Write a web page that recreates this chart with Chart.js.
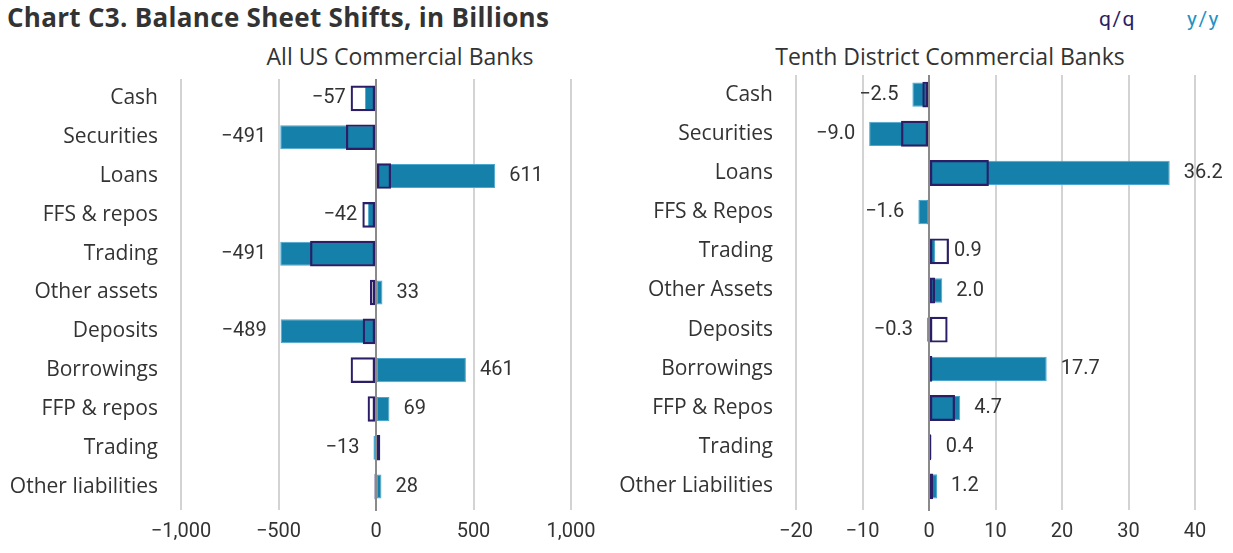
<!DOCTYPE html>
<html>
<head>
<meta charset="utf-8">
<script src="https://cdn.jsdelivr.net/npm/chart.js@4/dist/chart.umd.min.js"></script>
<style>
  body { margin: 0; background: #fff; }
  #wrap { position: relative; width: 1233px; height: 553px; font-family: "Open Sans", sans-serif; color: #333; }
  .title { position: absolute; left: 7px; top: 0px; font-size: 26px; font-weight: 700; line-height: 34px; letter-spacing: 0.3px; color: #333; }
  .legend { position: absolute; top: 5px; font-family: Roboto, sans-serif; font-size: 21px; line-height: 28px; letter-spacing: 1.5px; }
  .sub { position: absolute; top: 41px; width: 420px; text-align: center; font-size: 23px; line-height: 30px; color: #333; }
  .pane { position: absolute; top: 0; }
</style>
</head>
<body>
<div id="wrap">
  <div class="title">Chart C3. Balance Sheet Shifts, in Billions</div>
  <div class="legend" style="left:1099px;color:#2b1d66">q/q</div>
  <div class="legend" style="left:1187px;color:#1f93c4">y/y</div>
  <div class="sub" style="left:190px">All US Commercial Banks</div>
  <div class="sub" style="left:740px">Tenth District Commercial Banks</div>
  <div class="pane" style="left:0"><canvas id="usChart" width="620" height="553"></canvas></div>
  <div class="pane" style="left:620px"><canvas id="tenthChart" width="613" height="553"></canvas></div>
</div>
<script>
// --- dados ---
const usCategories = ['Cash', 'Securities', 'Loans', 'FFS & repos', 'Trading', 'Other assets',
  'Deposits', 'Borrowings', 'FFP & repos', 'Trading', 'Other liabilities'];
const usYoY = [-57, -491, 611, -42, -491, 33, -489, 461, 69, -13, 28];
const usQoQ = [-130, -154, 77, -70, -338, -31, -68, -130, -43, 22, -8];
const usTicks = [-1000, -500, 0, 500, 1000];

const tenthCategories = ['Cash', 'Securities', 'Loans', 'FFS & Repos', 'Trading', 'Other Assets',
  'Deposits', 'Borrowings', 'FFP & Repos', 'Trading', 'Other Liabilities'];
const tenthYoY = [-2.5, -9.0, 36.2, -1.6, 0.9, 2.0, -0.3, 17.7, 4.7, 0.4, 1.2];
const tenthQoQ = [-1.0, -4.2, 9.0, -0.2, 3.0, 0.9, 2.8, 0.5, 3.9, 0.3, 0.6];
const tenthTicks = [-20, -10, 0, 10, 20, 30, 40];

const LABEL_FONT = '"Open Sans", sans-serif';
const NUM_FONT = 'Roboto, sans-serif';
const TEXT = '#333333';
const TEAL = '#1580a9';
const NAVY = '#2b1d66';

const minus = s => s.replace('-', '\u2212');

// linha do zero por cima das barras
const zeroLine = {
  id: 'zeroLine',
  afterDatasetsDraw(chart) {
    const { ctx, chartArea, scales } = chart;
    const x0 = Math.round(scales.x.getPixelForValue(0));
    ctx.save();
    ctx.strokeStyle = '#8a8a8a';
    ctx.lineWidth = 2;
    ctx.beginPath();
    ctx.moveTo(x0, chartArea.top);
    ctx.lineTo(x0, chartArea.bottom + 5);
    ctx.stroke();
    ctx.restore();
  }
};

// rótulos com o valor y/y na ponta da barra
const valueLabels = {
  id: 'valueLabels',
  afterDatasetsDraw(chart, args, opts) {
    const { ctx } = chart;
    const qq = chart.getDatasetMeta(0);
    const yy = chart.getDatasetMeta(1);
    const qVals = chart.data.datasets[0].data;
    const yVals = chart.data.datasets[1].data;
    ctx.save();
    ctx.font = `20px ${NUM_FONT}`;
    ctx.fillStyle = TEXT;
    ctx.textBaseline = 'middle';
    yVals.forEach((v, i) => {
      const bar = yy.data[i], box = qq.data[i];
      let x = bar.x, gap = 14;
      const sameSide = Math.sign(qVals[i]) === Math.sign(v);
      if (sameSide && Math.abs(box.x - bar.base) > Math.abs(bar.x - bar.base)) { x = box.x; gap = 5; }
      const txt = opts.format(v);
      if (v < 0) { ctx.textAlign = 'right'; ctx.fillText(txt, x - gap, bar.y); }
      else { ctx.textAlign = 'left'; ctx.fillText(txt, x + gap, bar.y); }
    });
    ctx.restore();
  }
};

function makeChart(id, labels, qoq, yoy, ticks, cfg) {
  return new Chart(document.getElementById(id), {
    type: 'bar',
    data: {
      labels,
      datasets: [
        {
          label: 'q/q',
          data: qoq,
          backgroundColor: 'rgba(0,0,0,0)',
          borderColor: NAVY,
          borderWidth: 2.2,
          borderSkipped: false,
          grouped: false,
          order: 0,
          categoryPercentage: 0.66,
          barPercentage: 1
        },
        {
          label: 'y/y',
          data: yoy,
          backgroundColor: TEAL,
          borderColor: '#4aa7cf',
          borderWidth: 1,
          borderSkipped: false,
          grouped: false,
          order: 1,
          categoryPercentage: 0.62,
          barPercentage: 1
        }
      ]
    },
    options: {
      indexAxis: 'y',
      responsive: false,
      animation: false,
      layout: { padding: { top: cfg.top, right: cfg.right, left: 0, bottom: 0 } },
      plugins: {
        legend: { display: false },
        tooltip: { enabled: false },
        valueLabels: { format: cfg.labelFormat }
      },
      scales: {
        x: {
          min: ticks[0],
          max: ticks[ticks.length - 1],
          afterBuildTicks: s => { s.ticks = ticks.map(v => ({ value: v })); },
          afterFit: s => { s.height = 47; },
          grid: { color: '#d3d3d3', lineWidth: 2, drawTicks: true, tickLength: 4 },
          border: { display: false },
          ticks: {
            font: { family: NUM_FONT, size: 20 },
            color: TEXT,
            padding: 10,
            callback: v => minus(cfg.tickFormat(v))
          }
        },
        y: {
          afterFit: s => { s.width = cfg.yWidth; },
          grid: { display: false, drawTicks: false },
          border: { display: false },
          ticks: { font: { family: LABEL_FONT, size: 21 }, color: TEXT, padding: 23, autoSkip: false }
        }
      }
    },
    plugins: [zeroLine, valueLabels]
  });
}

makeChart('usChart', usCategories, usQoQ, usYoY, usTicks, {
  top: 79, right: 49, yWidth: 181,
  tickFormat: v => v.toLocaleString('en-US'),
  labelFormat: v => minus(String(v))
});

makeChart('tenthChart', tenthCategories, tenthQoQ, tenthYoY, tenthTicks, {
  top: 75, right: 38, yWidth: 176,
  tickFormat: v => String(v),
  labelFormat: v => minus(v.toFixed(1))
});
</script>
</body>
</html>
